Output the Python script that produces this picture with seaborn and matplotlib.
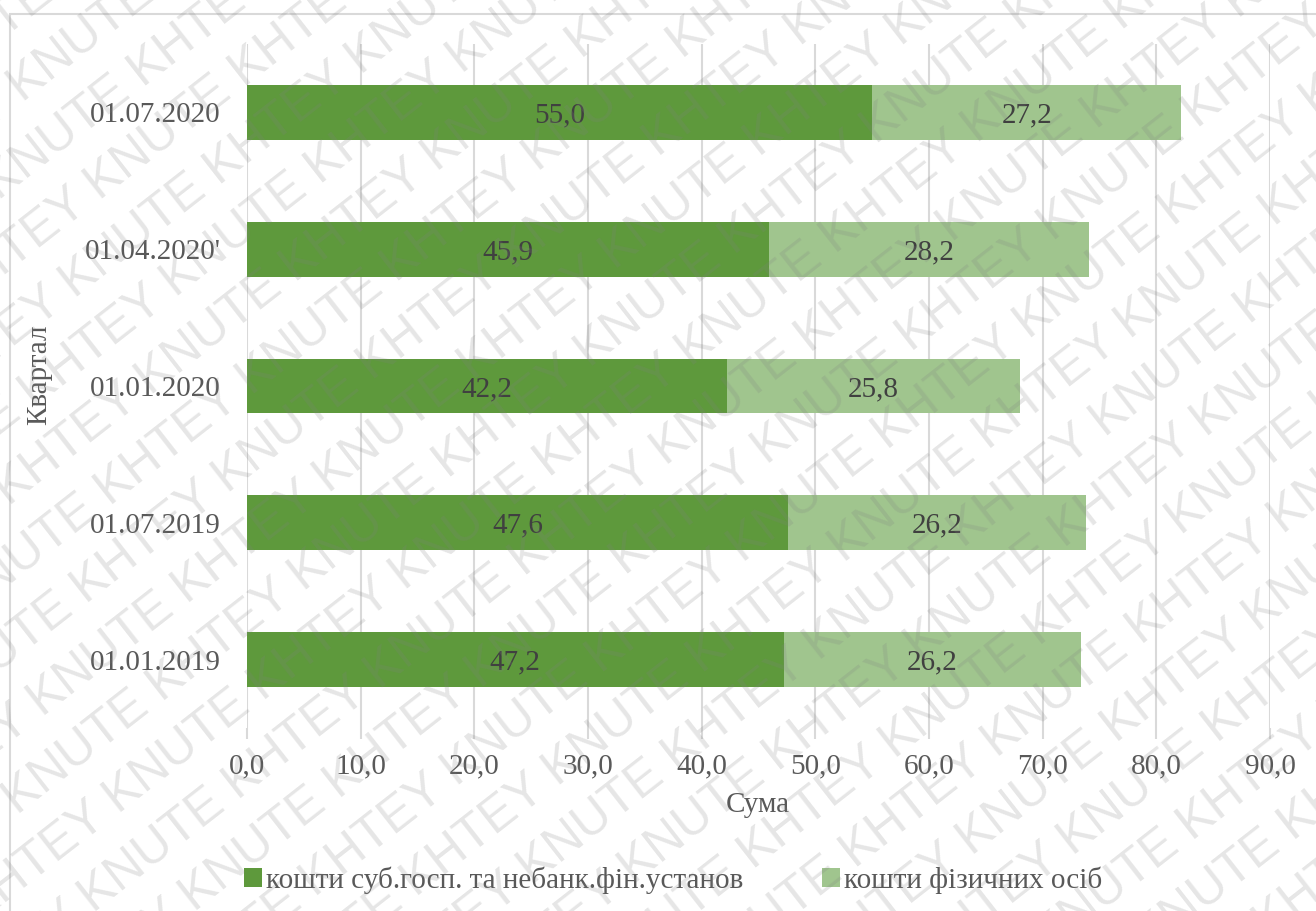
import numpy as np
import pandas as pd
import matplotlib
matplotlib.use("Agg")
import matplotlib.pyplot as plt
from matplotlib.patches import Rectangle, Patch
import seaborn as sns

# Quarterly balances (top row first)
quarters = ["01.07.2020", "01.04.2020'", "01.01.2020", "01.07.2019", "01.01.2019"]
business_funds = [55.0, 45.9, 42.2, 47.6, 47.2]
household_funds = [27.2, 28.2, 25.8, 26.2, 26.2]
x_ticks = [0, 10, 20, 30, 40, 50, 60, 70, 80, 90]
series_names = ["кошти суб.госп. та небанк.фін.установ", "кошти фізичних осіб"]

dark_green = "#5e993c"
light_green = "#a0c58e"
text_color = "#404040"
label_color = "#595959"
grid_color = "#d9d9d9"

sns.set_theme(style="white")
plt.rcParams["font.family"] = ["Liberation Serif", "DejaVu Serif"]

W, H = 1316, 911
fig = plt.figure(figsize=(W / 100, H / 100), dpi=100)
fig.patch.set_facecolor("white")

ax = fig.add_axes([247 / W, 1 - 728 / H, (1270 - 247) / W, (728 - 44) / H])

df = pd.DataFrame({
    "quarter": quarters,
    "business": business_funds,
    "household": household_funds,
})
df["total"] = df["business"] + df["household"]

# stacked bars: full total in light green, business part drawn over it
sns.barplot(data=df, x="total", y="quarter", order=quarters, orient="h",
            color=light_green, saturation=1, width=0.4, linewidth=0, ax=ax, zorder=2)
sns.barplot(data=df, x="business", y="quarter", order=quarters, orient="h",
            color=dark_green, saturation=1, width=0.4, linewidth=0, ax=ax, zorder=3)

for i, row in df.iterrows():
    ax.text(row["business"] / 2, i, f"{row['business']:.1f}".replace(".", ","),
            ha="center", va="center_baseline", fontsize=21, color=text_color, zorder=5)
    ax.text(row["business"] + row["household"] / 2, i,
            f"{row['household']:.1f}".replace(".", ","),
            ha="center", va="center_baseline", fontsize=21, color=text_color, zorder=5)

ax.set_xlim(0, 90)
ax.set_ylim(4.5, -0.5)
ax.set_xticks(x_ticks)
ax.set_xticklabels([f"{t:.1f}".replace(".", ",") for t in x_ticks])
ax.xaxis.grid(True, color=grid_color, linewidth=1.5, zorder=0)
ax.yaxis.grid(False)
ax.set_axisbelow(True)
for s in ax.spines.values():
    s.set_visible(False)
ax.tick_params(axis="x", length=8, width=1.5, color=grid_color, direction="out",
               labelsize=21, labelcolor=label_color, pad=10, bottom=True)
ax.tick_params(axis="y", length=0, labelsize=21, labelcolor=label_color, pad=19)
ax.set_xlabel("")
ax.set_ylabel("")

fig.text(758 / W, 1 - 805 / H, "Сума", ha="center", va="center",
         fontsize=21, color=label_color)
fig.text(39 / W, 1 - 375 / H, "Квартал", ha="center", va="center",
         rotation=90, fontsize=21, color=label_color)

handles = [Patch(facecolor=dark_green, edgecolor="none"),
           Patch(facecolor=light_green, edgecolor="none")]
fig.legend(handles, series_names, loc="center left",
           bbox_to_anchor=(218 / W, 1 - 880 / H),
           ncol=2, frameon=False, fontsize=21, labelcolor=label_color,
           handlelength=0.6, handleheight=0.6, handletextpad=0.15, columnspacing=2.7)

# chart frame
fig.add_artist(Rectangle((10 / W, -0.05), 1.1, 1 - 14 / H + 0.05,
                         transform=fig.transFigure, fill=False,
                         edgecolor=grid_color, linewidth=1.5))

# repeated diagonal watermark
ang = 38
u = np.array([np.cos(np.radians(ang)), np.sin(np.radians(ang))])
n = np.array([-u[1], u[0]])
center = np.array([W / 2, H / 2])
line_text = "KNUTE KHTEY " * 10
for k in range(-14, 15):
    p = center + k * 62 * n + (k % 2) * 80 * u
    fig.text(p[0] / W, p[1] / H, line_text, transform=fig.transFigure,
             ha="center", va="center", rotation=ang, rotation_mode="anchor",
             fontsize=36, family="Liberation Sans", color="#808080", alpha=0.2,
             zorder=10)

fig.savefig("out.png", dpi=100)
